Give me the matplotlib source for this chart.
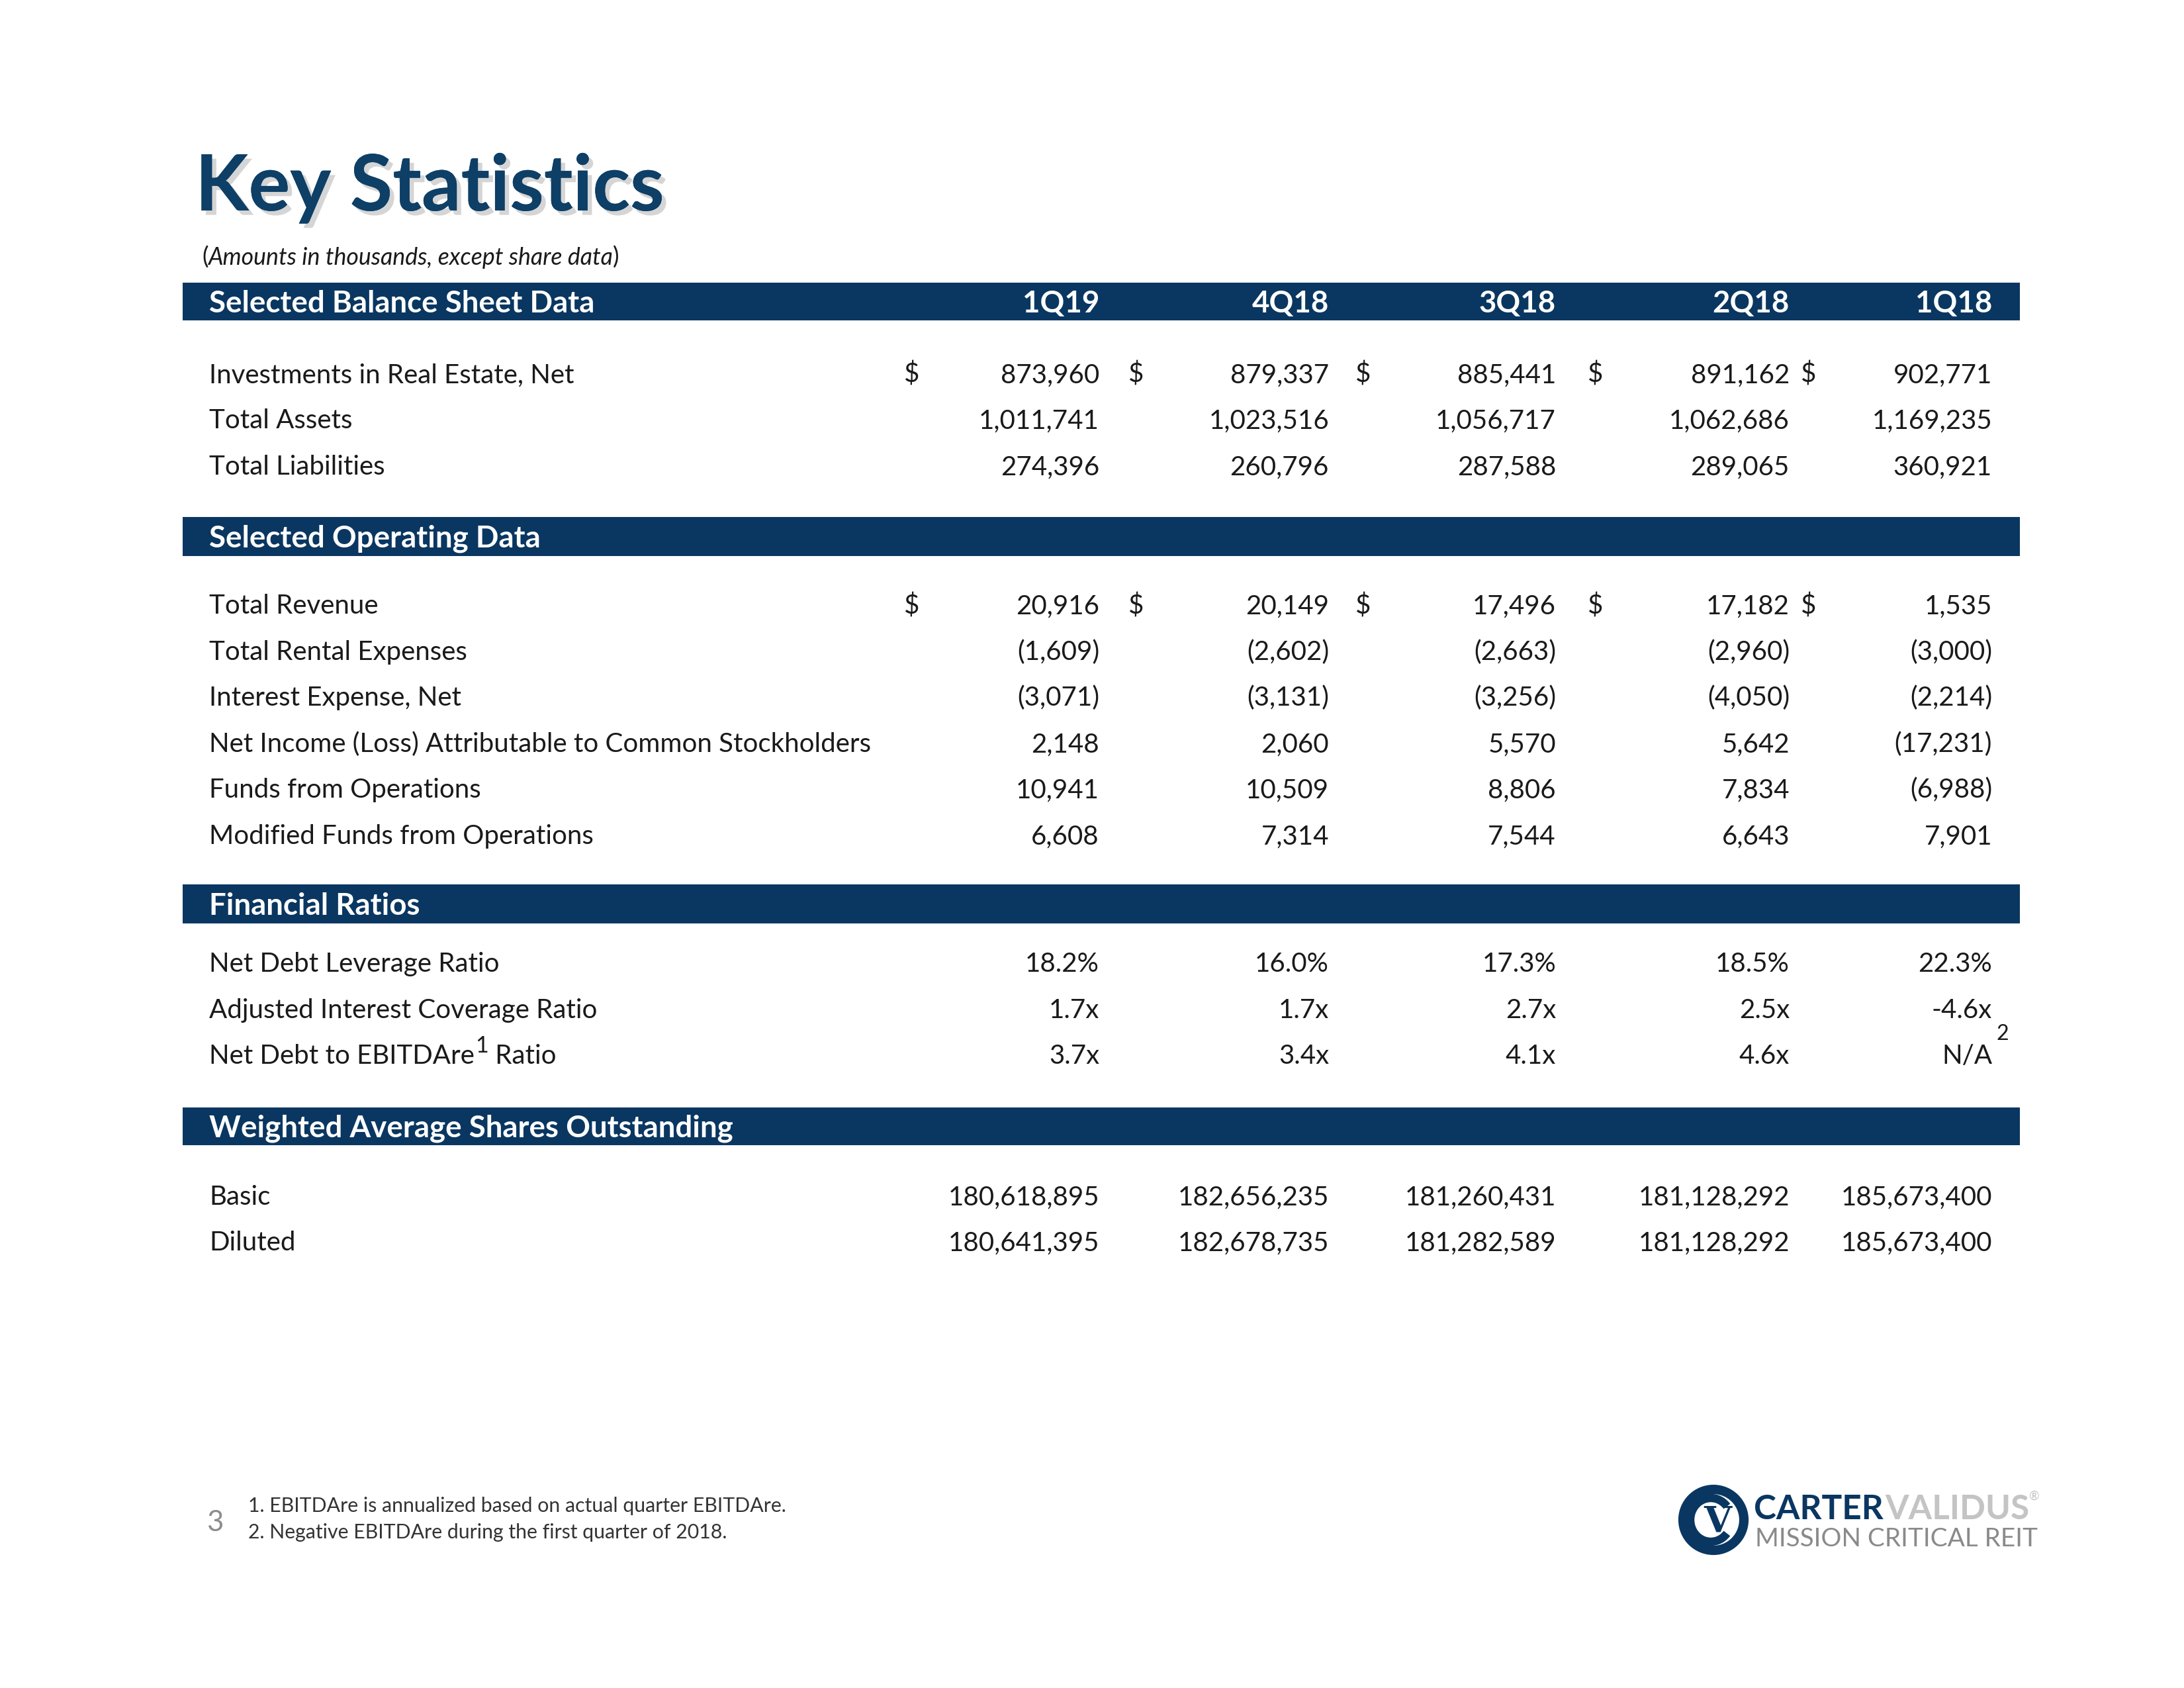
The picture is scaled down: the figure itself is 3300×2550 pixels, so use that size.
import matplotlib
matplotlib.use('Agg')
import matplotlib.pyplot as plt
import matplotlib.patheffects as pe
from matplotlib.patches import Rectangle, Circle, Arc

# ---- data ----
quarters = ['1Q19', '4Q18', '3Q18', '2Q18', '1Q18']

balance_labels = ['Investments in Real Estate, Net', 'Total Assets', 'Total Liabilities']
investments_re = [873960, 879337, 885441, 891162, 902771]
total_assets = [1011741, 1023516, 1056717, 1062686, 1169235]
total_liabilities = [274396, 260796, 287588, 289065, 360921]

operating_labels = ['Total Revenue', 'Total Rental Expenses', 'Interest Expense, Net',
                    'Net Income (Loss) Attributable to Common Stockholders',
                    'Funds from Operations', 'Modified Funds from Operations']
total_revenue = [20916, 20149, 17496, 17182, 1535]
rental_expenses = [-1609, -2602, -2663, -2960, -3000]
interest_expense = [-3071, -3131, -3256, -4050, -2214]
net_income = [2148, 2060, 5570, 5642, -17231]
ffo = [10941, 10509, 8806, 7834, -6988]
mffo = [6608, 7314, 7544, 6643, 7901]

ratio_labels = ['Net Debt Leverage Ratio', 'Adjusted Interest Coverage Ratio', 'Net Debt to EBITDAre']
leverage_pct = [18.2, 16.0, 17.3, 18.5, 22.3]
interest_coverage = [1.7, 1.7, 2.7, 2.5, -4.6]
debt_to_ebitda = [3.7, 3.4, 4.1, 4.6, None]

share_labels = ['Basic', 'Diluted']
basic_shares = [180618895, 182656235, 181260431, 181128292, 185673400]
diluted_shares = [180641395, 182678735, 181282589, 181128292, 185673400]

footnotes = ['1. EBITDAre is annualized based on actual quarter EBITDAre.',
             '2. Negative EBITDAre during the first quarter of 2018.']

# ---- style ----
NAVY = '#0a3761'
TXT = '#1a1a1a'
FONT = 'Lato'
BODY = 9.68
HEAD = 10.95

plt.rcParams['font.family'] = [FONT, 'DejaVu Sans']


def money(v):
    return '({:,})'.format(-v) if v < 0 else '{:,}'.format(v)


fig = plt.figure(figsize=(11, 8.5), dpi=300)
ax = fig.add_axes([0, 0, 1, 1])
ax.set_xlim(0, 3300)
ax.set_ylim(2550, 0)
ax.axis('off')

label_x = 316
col_right = [1661, 2008, 2351, 2704, 3010]
dollar_x = [1366, 1705, 2048, 2399, 2721]
bar_left, bar_right = 276, 3052


def section(title, top, bottom, with_cols=False):
    ax.add_patch(Rectangle((bar_left, top), bar_right - bar_left, bottom - top,
                           facecolor=NAVY, edgecolor='none'))
    yb = (top + bottom) / 2 + 16
    ax.text(label_x, yb, title, color='white', fontsize=HEAD, fontweight='bold',
            va='baseline', ha='left')
    if with_cols:
        for x, q in zip(col_right, quarters):
            ax.text(x, yb, q, color='white', fontsize=HEAD, fontweight='bold',
                    va='baseline', ha='right')


def row(y, label, cells, dollars=False):
    yb = y + 14
    t = ax.text(label_x, yb, label, color=TXT, fontsize=BODY, va='baseline', ha='left')
    out = []
    for x, c in zip(col_right, cells):
        out.append(ax.text(x, yb, c, color=TXT, fontsize=BODY, va='baseline', ha='right'))
    if dollars:
        for x in dollar_x:
            ax.text(x, yb, '$', color=TXT, fontsize=BODY, va='baseline', ha='left')
    return t, out


# title
ax.text(295, 318, 'Key Statistics', color='#0e3f66', fontsize=28.2, fontweight='bold',
        va='baseline', ha='left',
        path_effects=[pe.withSimplePatchShadow(offset=(1.6, -1.6), shadow_rgbFace='#777777', alpha=0.3),
                      pe.Normal()])
sub = ax.text(305, 400, '(', color=TXT, fontsize=8.6, va='baseline', ha='left')
sub = ax.annotate('Amounts in thousands, except share data', xy=(1, 0), xycoords=sub,
                  color=TXT, fontsize=8.6, style='italic', va='bottom', ha='left')
ax.annotate(')', xy=(1, 0), xycoords=sub, color=TXT, fontsize=8.6, va='bottom', ha='left')

# balance sheet
section('Selected Balance Sheet Data', 427, 484, with_cols=True)
bal_rows = [investments_re, total_assets, total_liabilities]
for i, (y, lab, vals) in enumerate(zip([564, 633, 703], balance_labels, bal_rows)):
    row(y, lab, [money(v) for v in vals], dollars=(i == 0))

# operating
section('Selected Operating Data', 781, 840)
op_rows = [total_revenue, rental_expenses, interest_expense, net_income, ffo, mffo]
for i, (y, lab, vals) in enumerate(zip([913, 983, 1052, 1122, 1191, 1261], operating_labels, op_rows)):
    row(y, lab, [money(v) for v in vals], dollars=(i == 0))

# ratios
section('Financial Ratios', 1336, 1395)
row(1454, ratio_labels[0], ['{:.1f}%'.format(v) for v in leverage_pct])
row(1524, ratio_labels[1], ['{:.1f}x'.format(v) for v in interest_coverage])
lab_t, cells = row(1593, ratio_labels[2],
                   ['N/A' if v is None else '{:.1f}x'.format(v) for v in debt_to_ebitda])
sup = ax.annotate('1', xy=(1, 0.5), xycoords=lab_t, xytext=(0.3, 0), textcoords='offset points',
                  fontsize=BODY * 0.85, color=TXT, va='bottom', ha='left')
ax.annotate(' Ratio', xy=(1, 0), xycoords=(sup, lab_t), fontsize=BODY, color=TXT,
            va='bottom', ha='left')
ax.annotate('2', xy=(1, 1), xycoords=cells[-1], xytext=(1.5, 0), textcoords='offset points',
            fontsize=BODY * 0.8, color=TXT, va='bottom', ha='left')

# shares
section('Weighted Average Shares Outstanding', 1673, 1730)
row(1806, share_labels[0], ['{:,}'.format(v) for v in basic_shares])
row(1875, share_labels[1], ['{:,}'.format(v) for v in diluted_shares])

# footer
ax.text(312, 2313, '3', color='#8c8c8c', fontsize=10.5, va='baseline', ha='left')
ax.text(375, 2284, footnotes[0], color='#333333', fontsize=7.25, va='baseline', ha='left')
ax.text(375, 2324, footnotes[1], color='#333333', fontsize=7.25, va='baseline', ha='left')

# logo
cx, cy = 2589, 2296
ax.add_patch(Circle((cx, cy), 46, facecolor='none', edgecolor=NAVY, lw=3.4))
ax.add_patch(Arc((cx - 4, cy), 62, 66, theta1=40, theta2=320, edgecolor=NAVY, lw=3.0))
ax.text(cx + 6, cy + 4, 'V', color=NAVY, fontsize=13, fontweight='bold', family='DejaVu Serif',
        va='center', ha='center')
carter = ax.text(2650, 2295, 'CARTER', color=NAVY, fontsize=12.3, fontweight='bold',
                 va='baseline', ha='left')
validus = ax.annotate('VALIDUS', xy=(1, 0), xycoords=carter, xytext=(0.5, 0), textcoords='offset points',
                      color='#c4c4c4', fontsize=12.3, fontweight='bold', va='bottom', ha='left')
ax.annotate('®', xy=(1, 0.75), xycoords=validus, color='#c4c4c4', fontsize=4.5, va='bottom', ha='left')
ax.text(2652, 2336, 'MISSION CRITICAL REIT', color='#8a8a8a', fontsize=9.3,
        va='baseline', ha='left')

fig.savefig('out.png', dpi=300, facecolor='white')
